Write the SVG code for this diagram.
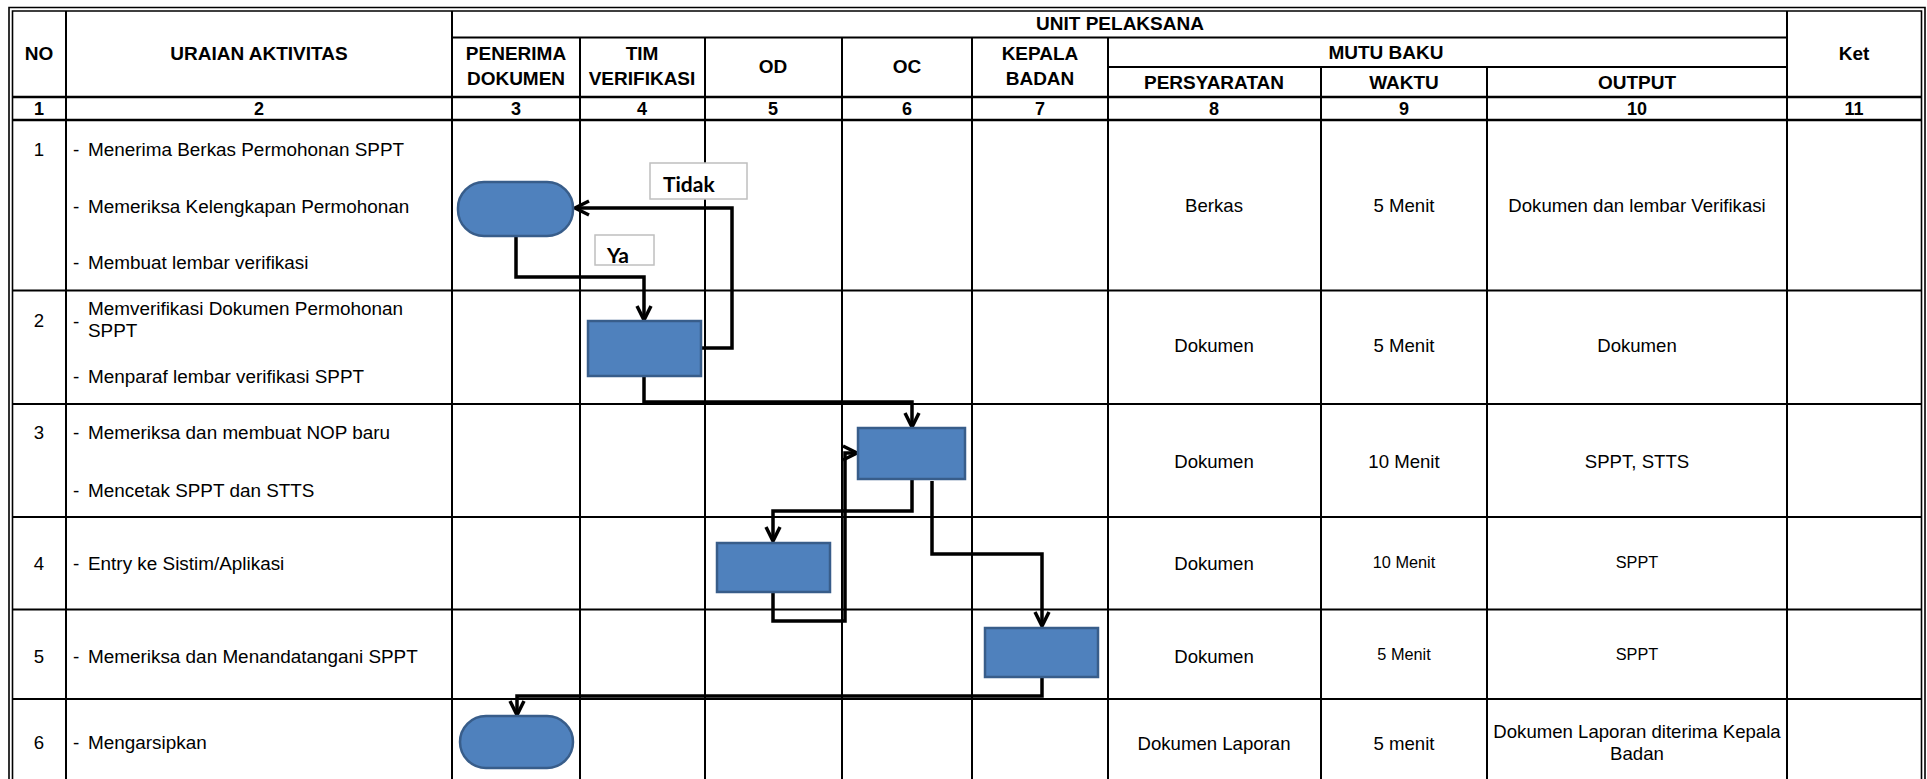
<svg xmlns="http://www.w3.org/2000/svg" width="1927" height="779" viewBox="0 0 1927 779">
<defs>
<style>
.grid{stroke:#000;stroke-width:2;fill:none}
.bold{stroke:#000;stroke-width:2.6;fill:none}
.brd{stroke:#000;stroke-width:1.6;fill:none}
.h{font-family:"Liberation Sans",Arial,sans-serif;font-weight:bold;font-size:19px;fill:#000;text-anchor:middle}
.n{font-family:"Liberation Sans",Arial,sans-serif;font-weight:bold;font-size:18px;fill:#000;text-anchor:middle}
.t{font-family:"Liberation Sans",Arial,sans-serif;font-size:18.9px;fill:#000}
.c{font-family:"Liberation Sans",Arial,sans-serif;font-size:18.6px;fill:#000;text-anchor:middle}
.s{font-family:"Liberation Sans",Arial,sans-serif;font-size:16.3px;fill:#000;text-anchor:middle}
.box{fill:#4F81BD;stroke:#385D8A;stroke-width:2.5}
.lbl{fill:#fff;stroke:#BFBFBF;stroke-width:1.5}
.lt{font-family:Lato,"Open Sans",sans-serif;font-weight:bold;font-size:21px;fill:#000}
.con{stroke:#000;stroke-width:3.5;fill:none;stroke-linejoin:miter}
</style>
<marker id="arr" markerUnits="userSpaceOnUse" viewBox="-16 -10 20 20" refX="0" refY="0" markerWidth="20" markerHeight="20" orient="auto">
<path d="M-14,-7 L0,0 L-14,7" fill="none" stroke="#000" stroke-width="3.5"/>
</marker>
</defs>
<rect width="1927" height="779" fill="#fff"/>
<g id="table">
<path class="brd" d="M9,779 V7.5 H1925 V779 M12.5,779 V11 H1921.5 V779"/>
<path class="grid" d="M66,11 V779 M452,11 V779 M1787,11 V779 M452,37.5 H1787 M580,37.5 V779 M705,37.5 V779 M842,37.5 V779 M972,37.5 V779 M1108,37.5 V779 M1108,67 H1787 M1321,67 V779 M1487,67 V779"/>
<path class="bold" d="M12.5,97 H1921.5 M12.5,120 H1921.5"/>
<path class="grid" d="M12.5,290.5 H1921.5 M12.5,404 H1921.5 M12.5,517 H1921.5 M12.5,609.5 H1921.5 M12.5,699 H1921.5"/>
</g>
<g id="header">
<text class="h" x="39" y="60">NO</text>
<text class="h" x="259" y="60">URAIAN AKTIVITAS</text>
<text class="h" x="1120" y="29.5">UNIT PELAKSANA</text>
<text class="h" x="516" y="60">PENERIMA</text>
<text class="h" x="516" y="84.5">DOKUMEN</text>
<text class="h" x="642" y="60">TIM</text>
<text class="h" x="642" y="84.5">VERIFIKASI</text>
<text class="h" x="773" y="72.5">OD</text>
<text class="h" x="907" y="72.5">OC</text>
<text class="h" x="1040" y="60">KEPALA</text>
<text class="h" x="1040" y="84.5">BADAN</text>
<text class="h" x="1386" y="58.5">MUTU BAKU</text>
<text class="h" x="1214" y="88.5">PERSYARATAN</text>
<text class="h" x="1404" y="88.5">WAKTU</text>
<text class="h" x="1637" y="88.5">OUTPUT</text>
<text class="h" x="1854" y="60">Ket</text>
<text class="n" x="39" y="114.5">1</text>
<text class="n" x="259" y="114.5">2</text>
<text class="n" x="516" y="114.5">3</text>
<text class="n" x="642" y="114.5">4</text>
<text class="n" x="773" y="114.5">5</text>
<text class="n" x="907" y="114.5">6</text>
<text class="n" x="1040" y="114.5">7</text>
<text class="n" x="1214" y="114.5">8</text>
<text class="n" x="1404" y="114.5">9</text>
<text class="n" x="1637" y="114.5">10</text>
<text class="n" x="1854" y="114.5">11</text>
</g>
<g id="rows">
<text class="c" x="39" y="155.5">1</text>
<text class="t" x="73" y="155.5">-</text><text class="t" x="88" y="155.5">Menerima Berkas Permohonan SPPT</text>
<text class="t" x="73" y="212.5">-</text><text class="t" x="88" y="212.5">Memeriksa Kelengkapan Permohonan</text>
<text class="t" x="73" y="268.5">-</text><text class="t" x="88" y="268.5">Membuat lembar verifikasi</text>
<text class="c" x="39" y="326.5">2</text>
<text class="t" x="73" y="327.5">-</text><text class="t" x="88" y="314.5">Memverifikasi Dokumen Permohonan</text>
<text class="t" x="88" y="336.5">SPPT</text>
<text class="t" x="73" y="382.5">-</text><text class="t" x="88" y="382.5">Menparaf lembar verifikasi SPPT</text>
<text class="c" x="39" y="438.5">3</text>
<text class="t" x="73" y="438.5">-</text><text class="t" x="88" y="438.5">Memeriksa dan membuat NOP baru</text>
<text class="t" x="73" y="496.5">-</text><text class="t" x="88" y="496.5">Mencetak SPPT dan STTS</text>
<text class="c" x="39" y="569.5">4</text>
<text class="t" x="73" y="569.5">-</text><text class="t" x="88" y="569.5">Entry ke Sistim/Aplikasi</text>
<text class="c" x="39" y="662.5">5</text>
<text class="t" x="73" y="662.5">-</text><text class="t" x="88" y="662.5">Memeriksa dan Menandatangani SPPT</text>
<text class="c" x="39" y="748.5">6</text>
<text class="t" x="73" y="748.5">-</text><text class="t" x="88" y="748.5">Mengarsipkan</text>

<text class="c" x="1214" y="211.5">Berkas</text>
<text class="c" x="1404" y="211.5">5 Menit</text>
<text class="c" x="1637" y="211.5">Dokumen dan lembar Verifikasi</text>
<text class="c" x="1214" y="351.5">Dokumen</text>
<text class="c" x="1404" y="351.5">5 Menit</text>
<text class="c" x="1637" y="351.5">Dokumen</text>
<text class="c" x="1214" y="467.5">Dokumen</text>
<text class="c" x="1404" y="467.5">10 Menit</text>
<text class="c" x="1637" y="467.5">SPPT, STTS</text>
<text class="c" x="1214" y="569.5">Dokumen</text>
<text class="s" x="1404" y="567.7">10 Menit</text>
<text class="s" x="1637" y="567.7">SPPT</text>
<text class="c" x="1214" y="662.5">Dokumen</text>
<text class="s" x="1404" y="659.7">5 Menit</text>
<text class="s" x="1637" y="659.7">SPPT</text>
<text class="c" x="1214" y="749.5">Dokumen Laporan</text>
<text class="c" x="1404" y="749.5">5 menit</text>
<text class="c" x="1637" y="737.5">Dokumen Laporan diterima Kepala</text>
<text class="c" x="1637" y="759.5">Badan</text>
</g>
<g id="connectors">
<path class="con" d="M516,236 V277 H644 V320" marker-end="url(#arr)"/>
<path class="con" d="M701,348 H732 V208 H575" marker-end="url(#arr)"/>
<path class="con" d="M644,376 V402 H912 V427" marker-end="url(#arr)"/>
<path class="con" d="M912,479 V511 H773 V541" marker-end="url(#arr)"/>
<path class="con" d="M773,592 V621 H845 V453 H857" marker-end="url(#arr)"/>
<path class="con" d="M932,481 V554 H1042 V626" marker-end="url(#arr)"/>
<path class="con" d="M1042,677 V696 H517 V715" marker-end="url(#arr)"/>
</g>
<g id="node-start"><rect class="box" x="458" y="182" width="115" height="54" rx="26" ry="26"/></g>
<g id="node-verifikasi"><rect class="box" x="588" y="321" width="113" height="55"/></g>
<g id="node-oc"><rect class="box" x="858" y="428" width="107" height="51"/></g>
<g id="node-od"><rect class="box" x="717" y="543" width="113" height="49"/></g>
<g id="node-kepala"><rect class="box" x="985" y="628" width="113" height="49"/></g>
<g id="node-end"><rect class="box" x="460" y="716" width="113" height="52" rx="26" ry="26"/></g>
<g id="label-tidak"><rect class="lbl" x="650" y="163" width="97" height="36"/><text class="lt" x="663" y="192">Tidak</text></g>
<g id="label-ya"><rect class="lbl" x="595" y="235" width="59" height="30"/><text class="lt" x="607" y="263">Ya</text></g>
</svg>
